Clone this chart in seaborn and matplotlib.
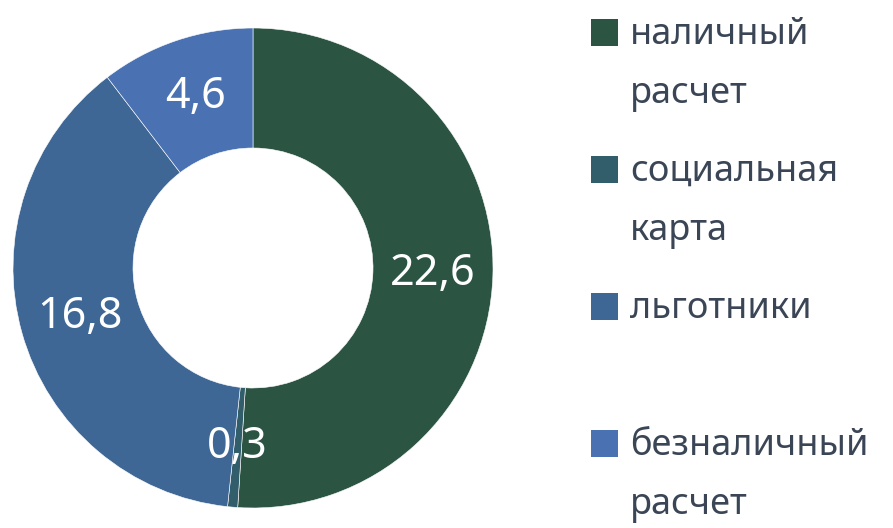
import matplotlib
matplotlib.use('Agg')
import matplotlib.pyplot as plt
import seaborn as sns
from matplotlib.patches import Rectangle

# - data - #
categories = ['наличный\nрасчет', 'социальная\nкарта', 'льготники', 'безналичный\nрасчет']
values = [22.6, 0.3, 16.8, 4.6]
colors = ['#2b5443', '#325e6b', '#3e6796', '#4a72b2']

sns.set_theme(style='white')
plt.rcParams['font.family'] = ['Noto Sans', 'DejaVu Sans']

W, H = 893, 528
fig = plt.figure(figsize=(W / 100, H / 100), dpi=100)
ax = fig.add_axes([13 / W, 20 / H, 480 / W, 480 / H])

total = sum(values)
wedges, texts, autotexts = ax.pie(
    values, colors=colors, startangle=90, counterclock=False, radius=1,
    wedgeprops=dict(width=0.5, edgecolor='white', linewidth=0.4),
    autopct=lambda p: f'{p * total / 100:.1f}'.replace('.', ','),
    pctdistance=0.75,
)
for t in autotexts:
    t.set_color('white')
    t.set_fontsize(31)
ax.set_xlim(-1, 1)
ax.set_ylim(-1, 1)
ax.set_aspect('equal')
ax.axis('off')

# legend drawn by hand: square + wrapped label, one slot per entry
top = 32
step = 137
for i, (lab, c) in enumerate(zip(categories, colors)):
    yc = top + i * step
    fig.patches.append(Rectangle((591 / W, 1 - (yc + 14) / H), 27 / W, 27 / H,
                                 transform=fig.transFigure, facecolor=c, edgecolor='none'))
    fig.text(630 / W, 1 - (yc - 15) / H, lab, ha='left', va='top', fontsize=26,
             color='#3a4556', linespacing=1.84)

fig.savefig('out.png', dpi=100)
